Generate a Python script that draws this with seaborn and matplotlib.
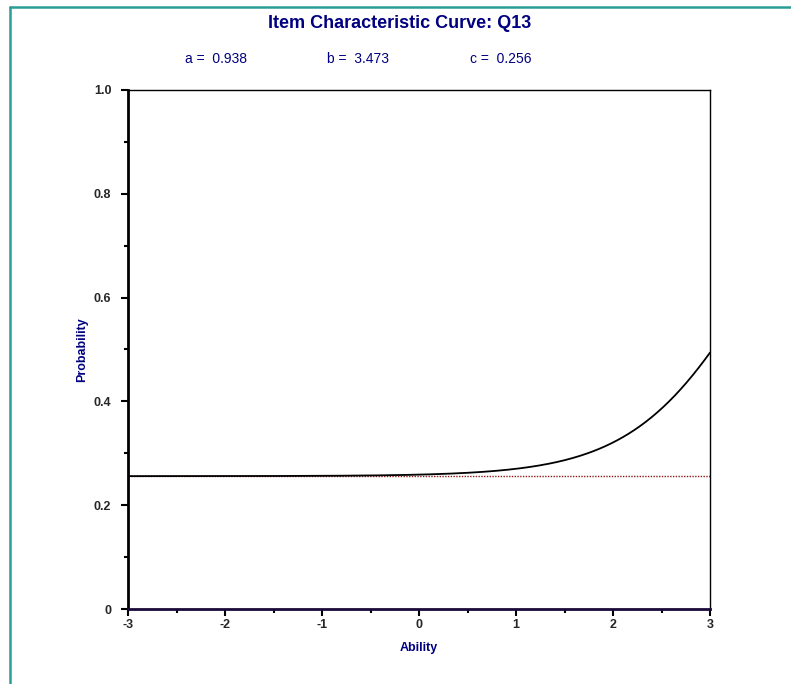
import numpy as np
import pandas as pd
import matplotlib
matplotlib.use("Agg")
import matplotlib.pyplot as plt
from matplotlib.lines import Line2D
from matplotlib.ticker import MultipleLocator, FixedLocator, FixedFormatter
import seaborn as sns

# 3PL item parameters for Q13
item_name = "Q13"
param_a = 0.938
param_b = 3.473
param_c = 0.256
scale_d = 1.7

# ability range and tick labels
ability_limits = [-3, 3]
x_ticks = [-3, -2, -1, 0, 1, 2, 3]
y_ticks = [0, 0.2, 0.4, 0.6, 0.8, 1.0]
y_tick_labels = ["0", "0.2", "0.4", "0.6", "0.8", "1.0"]

theta = np.linspace(ability_limits[0], ability_limits[1], 301)
prob = param_c + (1 - param_c) / (1 + np.exp(-scale_d * param_a * (theta - param_b)))
curve = pd.DataFrame({"Ability": theta, "Probability": prob})

sns.set_style("white")
plt.rcParams["font.family"] = ["Liberation Sans", "DejaVu Sans"]

navy = "#000080"
fig = plt.figure(figsize=(7.91, 6.84), dpi=100)
ax = fig.add_axes([128 / 791, 75 / 684, 582 / 791, 519 / 684])

sns.lineplot(data=curve, x="Ability", y="Probability", ax=ax,
             color="black", linewidth=1.3, zorder=3)
ax.axhline(param_c, color="#8b1a1a", linestyle=(0, (1, 1)), linewidth=1.0, zorder=2)

ax.set_xlim(*ability_limits)
ax.set_ylim(0, 1)
ax.xaxis.set_major_locator(FixedLocator(x_ticks))
ax.xaxis.set_minor_locator(MultipleLocator(0.5))
ax.yaxis.set_major_locator(FixedLocator(y_ticks))
ax.yaxis.set_major_formatter(FixedFormatter(y_tick_labels))
ax.yaxis.set_minor_locator(MultipleLocator(0.1))
ax.set_xticklabels([str(t) for t in x_ticks])

ax.tick_params(axis="both", which="major", direction="out", length=5, width=1.5,
               color="black", labelsize=9)
ax.tick_params(axis="both", which="minor", direction="out", length=3, width=1.5,
               color="black")
ax.tick_params(axis="y", which="both", left=True, pad=7)
ax.tick_params(axis="x", which="both", bottom=True, pad=2)
for lbl in ax.get_xticklabels() + ax.get_yticklabels():
    lbl.set_fontweight("bold")

for side in ["top", "right"]:
    ax.spines[side].set_color("black")
    ax.spines[side].set_linewidth(1.0)
ax.spines["left"].set_color("black")
ax.spines["left"].set_linewidth(2.0)
ax.spines["bottom"].set_color("#1a0a3a")
ax.spines["bottom"].set_linewidth(2.0)

ax.set_xlabel("Ability", color=navy, fontsize=9, fontweight="bold", labelpad=8)
ax.set_ylabel("Probability", color=navy, fontsize=9, fontweight="bold", labelpad=4)

fig.text(400 / 791, 1 - 23 / 684, f"Item Characteristic Curve: {item_name}",
         ha="center", va="center", color=navy, fontsize=13, fontweight="bold")
fig.text(216 / 791, 1 - 59 / 684, f"a =  {param_a:.3f}", ha="center", va="center",
         color=navy, fontsize=10)
fig.text(358 / 791, 1 - 59 / 684, f"b =  {param_b:.3f}", ha="center", va="center",
         color=navy, fontsize=10)
fig.text(501 / 791, 1 - 59 / 684, f"c =  {param_c:.3f}", ha="center", va="center",
         color=navy, fontsize=10)

# outer frame lines along the top and left edges
frame_color = "#2a9d96"
fig.add_artist(Line2D([9.5 / 791, 1], [1 - 6.5 / 684, 1 - 6.5 / 684],
                      transform=fig.transFigure, color=frame_color, linewidth=1.8))
fig.add_artist(Line2D([9.5 / 791, 9.5 / 791], [0, 1 - 6.5 / 684],
                      transform=fig.transFigure, color=frame_color, linewidth=1.8))

fig.savefig("out.png", dpi=100)
